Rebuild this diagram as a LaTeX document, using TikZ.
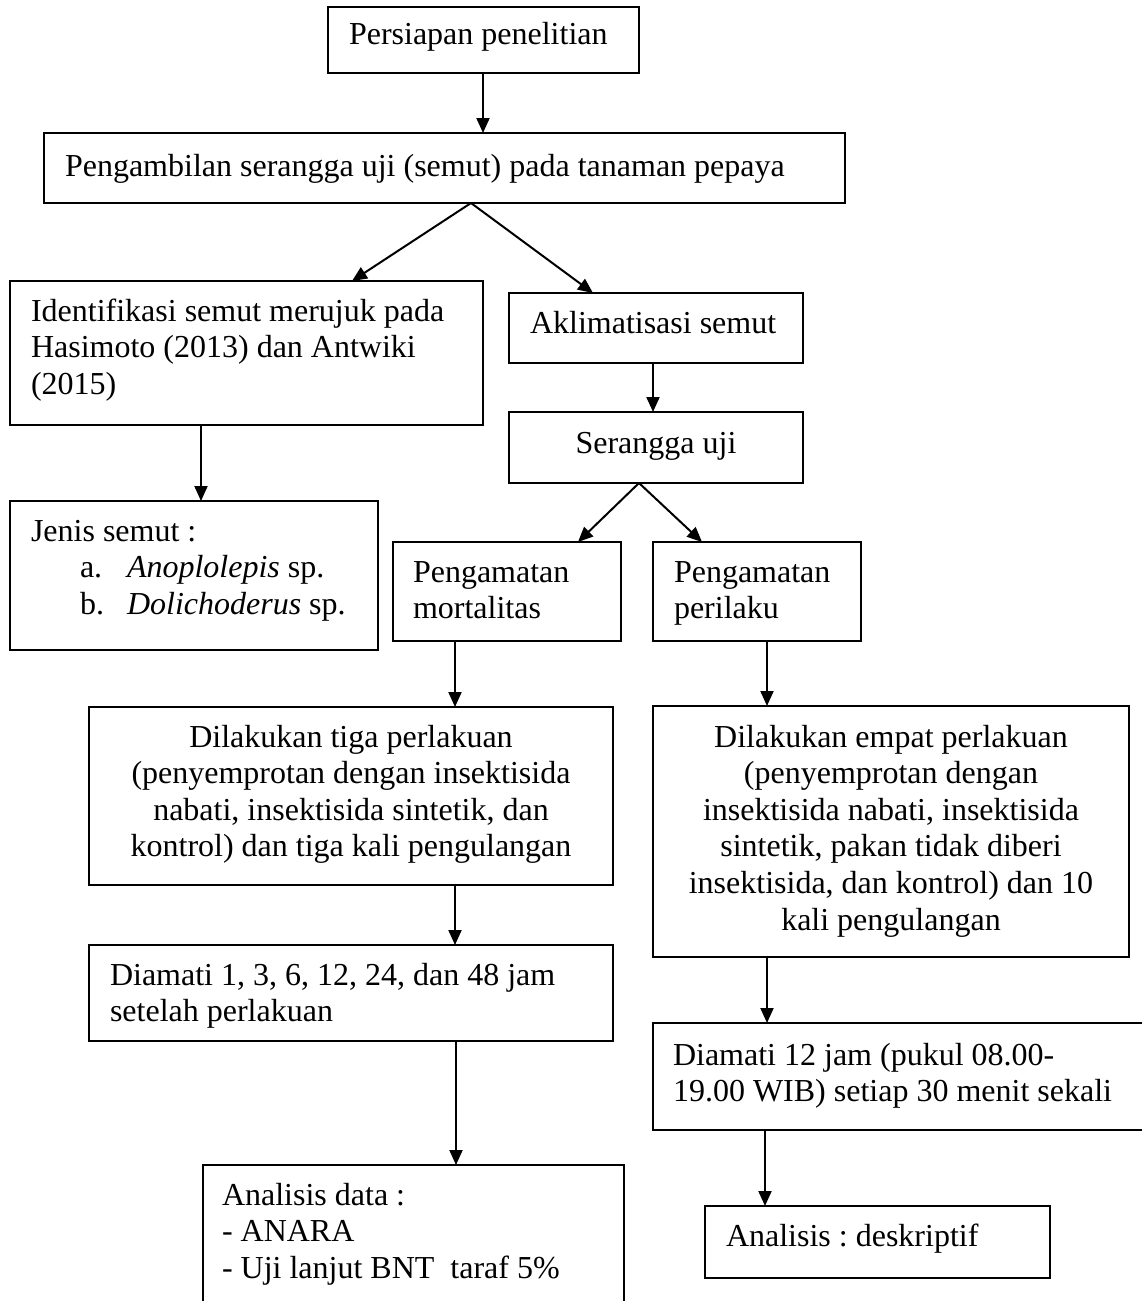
\documentclass[tikz,border=0pt]{standalone}
\usepackage{fontspec}
\setmainfont{Liberation Serif}
\usetikzlibrary{arrows.meta}
\tikzset{
  box/.style={draw, line width=1.6pt, inner sep=0pt, outer sep=0pt, anchor=north west},
  txt/.style={inner sep=0pt, outer sep=0pt, anchor=north west, align=left, font=\fontsize{32}{36.6}\selectfont\frenchspacing},
  ctxt/.style={txt, anchor=north, align=center},
  arr/.style={line width=2pt, -{Triangle[length=15pt,width=13pt]}}
}
\begin{document}
\frenchspacing
\begin{tikzpicture}[x=1pt,y=-1pt]
\useasboundingbox (0,0) rectangle (1142,1301);
\fill[white] (0,0) rectangle (1142,1301);
\clip (0,0) rectangle (1142,1301);

% boxes
\node[box, minimum width=311, minimum height=66]  (pers)   at (328,7)    {};
\node[box, minimum width=801, minimum height=70]  (peng)   at (44,133)   {};
\node[box, minimum width=473, minimum height=144] (ident)  at (10,281)   {};
\node[box, minimum width=294, minimum height=70]  (akl)    at (509,293)  {};
\node[box, minimum width=294, minimum height=71]  (ser)    at (509,412)  {};
\node[box, minimum width=368, minimum height=149] (jenis)  at (10,501)   {};
\node[box, minimum width=228, minimum height=99]  (mort)   at (393,542)  {};
\node[box, minimum width=208, minimum height=99]  (peril)  at (653,542)  {};
\node[box, minimum width=524, minimum height=178] (tiga)   at (89,707)   {};
\node[box, minimum width=476, minimum height=251] (empat)  at (653,706)  {};
\node[box, minimum width=524, minimum height=96]  (diam)   at (89,945)   {};
\node[box, minimum width=520, minimum height=107] (diamb)  at (653,1023) {};
\node[box, minimum width=421, minimum height=170] (ana)    at (203,1165) {};
\node[box, minimum width=345, minimum height=72]  (desk)   at (705,1206) {};

% texts
\node[txt]  (persT)  at (349,18.4)   {\strut Persiapan penelitian};
\node[txt]  (pengT)  at (65,150.4)   {\strut Pengambilan serangga uji (semut) pada tanaman pepaya};
\node[txt]  (identT) at (31,295.4)   {\strut Identifikasi semut merujuk pada\\Hasimoto (2013) dan Antwiki\\(2015)};
\node[txt]  (aklT)   at (530,307.4)  {\strut Aklimatisasi semut};
\node[ctxt] (serT)   at (656,427.4)  {\strut Serangga uji};
\node[txt]  (jenisT) at (31,515.4)   {\strut Jenis semut :\\
  \hspace*{49pt}\makebox[47pt][l]{a.}\textit{Anoplolepis} sp.\\
  \hspace*{49pt}\makebox[47pt][l]{b.}\textit{Dolichoderus} sp.};
\node[txt]  (mortT)  at (413,556.4)  {\strut Pengamatan\\mortalitas};
\node[txt]  (perT)   at (674,556.4)  {\strut Pengamatan\\perilaku};
\node[ctxt] (tigaT)  at (351,721.4)  {\strut Dilakukan tiga perlakuan\\(penyemprotan dengan insektisida\\nabati, insektisida sintetik, dan\\kontrol) dan tiga kali pengulangan};
\node[ctxt] (empatT) at (891,721.4)  {\strut Dilakukan empat perlakuan\\(penyemprotan dengan\\insektisida nabati, insektisida\\sintetik, pakan tidak diberi\\insektisida, dan kontrol) dan 10\\kali pengulangan};
\node[txt]  (diamT)  at (110,959.4)  {\strut Diamati 1, 3, 6, 12, 24, dan 48 jam\\setelah perlakuan};
\node[txt]  (diambT) at (673,1039.4) {\strut Diamati 12 jam (pukul 08.00-\\19.00 WIB) setiap 30 menit sekali};
\node[txt]  (anaT)   at (222,1179.4) {\strut Analisis data :\\- ANARA\\- Uji lanjut BNT\ \ taraf 5\%};
\node[txt]  (deskT)  at (726,1220.4) {\strut Analisis : deskriptif};

% connectors
\draw[arr] ([xshift=155pt]pers.south west) -- ([xshift=439pt]peng.north west);
\draw[arr] ([xshift=427pt]peng.south west) -- ([xshift=342pt]ident.north west);
\draw[arr] ([xshift=427pt]peng.south west) -- ([xshift=84pt]akl.north west);
\draw[arr] ([xshift=191pt]ident.south west) -- ([xshift=191pt]jenis.north west);
\draw[arr] ([xshift=144pt]akl.south west) -- ([xshift=144pt]ser.north west);
\draw[arr] ([xshift=130pt]ser.south west) -- ([xshift=185pt]mort.north west);
\draw[arr] ([xshift=130pt]ser.south west) -- ([xshift=49pt]peril.north west);
\draw[arr] ([xshift=62pt]mort.south west) -- ([xshift=366pt]tiga.north west);
\draw[arr] ([xshift=114pt]peril.south west) -- ([xshift=114pt]empat.north west);
\draw[arr] ([xshift=366pt]tiga.south west) -- ([xshift=366pt]diam.north west);
\draw[arr] ([xshift=114pt]empat.south west) -- ([xshift=114pt]diamb.north west);
\draw[arr] ([xshift=367pt]diam.south west) -- ([xshift=253pt]ana.north west);
\draw[arr] ([xshift=112pt]diamb.south west) -- ([xshift=60pt]desk.north west);
\end{tikzpicture}
\end{document}
